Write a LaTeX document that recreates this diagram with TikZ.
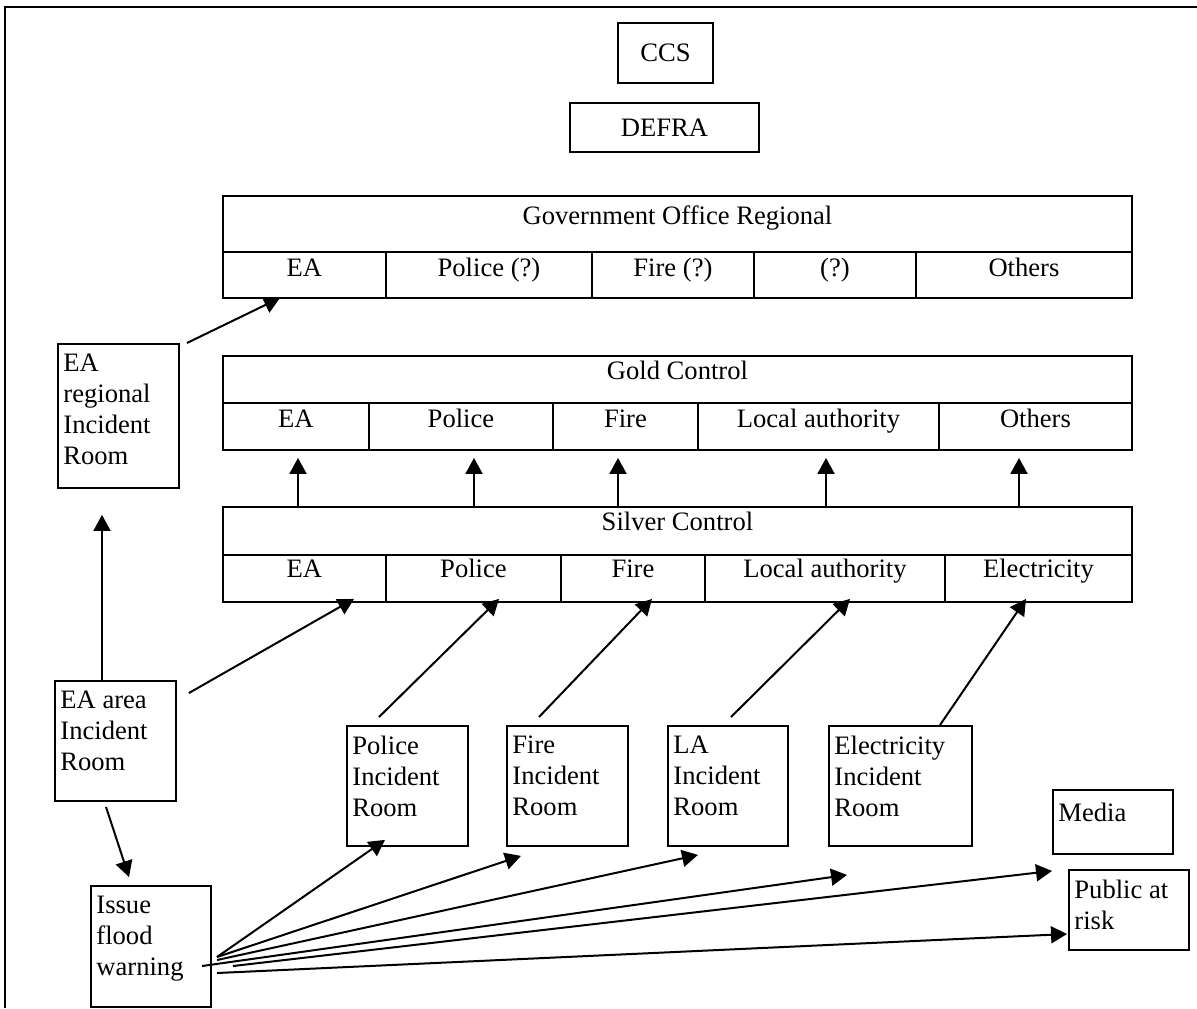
\documentclass[tikz,border=0pt]{standalone}
\usepackage{fontspec}
\setmainfont{Liberation Serif}
\usetikzlibrary{arrows.meta}
\tikzset{
  fc base/.style={
    draw=black, line width=0.95pt, inner sep=0pt,
    font=\fontsize{13.3}{15.5}\selectfont
  },
  fc box/.style={
    fc base, anchor=north west
  },
  fc cell/.style={
    fc box, minimum height=23.5pt, text height=12.5pt, text depth=11pt
  },
  fc room/.style={
    fc box, minimum width=60.5pt, minimum height=60pt
  },
  fc text/.style={
    anchor=north west, align=left, inner sep=0pt,
    xshift=3pt, yshift=-5.4pt,
    font=\fontsize{13.3}{15.5}\selectfont,
    execute at begin node=\strut
  },
  fc arrow/.style={
    -{Triangle[length=8pt, width=8.5pt]}, line width=1pt
  },
  fc frame/.style={
    line width=1.1pt
  }
}
\begin{document}
\begin{tikzpicture}[x=0.5pt, y=-0.5pt]
  \useasboundingbox (0,0) rectangle (1197,1008);
  \draw [fc frame] (1197,7) -- (5,7) -- (5,1008);

  % top level
  \node (ccs) [fc base, minimum width=47.5pt, minimum height=30pt] at (665.5,53) {CCS};
  \node (defra) [fc base, minimum width=94.5pt, minimum height=24.5pt] at (664.5,127.5) {DEFRA};

  % government office
  \node (gor) [fc box, minimum width=454.5pt, minimum height=28pt,
    text height=14.5pt, text depth=13.5pt] at (222,195) {Government Office Regional};
  \foreach \a/\b/\t [count=\i] in {222/385/EA, 385/591/{Police (?)},
      591/753/{Fire (?)}, 753/915/{(?)}, 915/1131/Others}
    \node (gor\i) [fc cell, minimum width={(\b-\a)*0.5pt}, minimum height=23pt,
      text height=12.5pt, text depth=10.5pt] at (\a,251) {\t};

  % gold
  \node (gold) [fc box, minimum width=454.5pt, minimum height=23.5pt,
    text height=12pt, text depth=11.5pt] at (222,355) {Gold Control};
  \foreach \a/\b/\t [count=\i] in {222/368/EA, 368/552/Police, 552/697/Fire,
      697/938/{Local authority}, 938/1131/Others}
    \node (gold\i) [fc cell, minimum width={(\b-\a)*0.5pt}] at (\a,402) {\t};

  % silver
  \node (silver) [fc box, minimum width=454.5pt, minimum height=24pt,
    text height=12pt, text depth=12pt] at (222,506) {Silver Control};
  \foreach \a/\b/\t [count=\i] in {222/385/EA, 385/560/Police, 560/704/Fire,
      704/944/{Local authority}, 944/1131/Electricity}
    \node (silver\i) [fc cell, minimum width={(\b-\a)*0.5pt},
      text height=11.5pt, text depth=12pt] at (\a,554) {\t};

  % incident rooms
  \node (earoom) [fc room, minimum height=72pt,
    label={[fc text]north west:{EA\\regional\\Incident\\Room}}] at (57,343) {};
  \node (eaarea) [fc room,
    label={[fc text]north west:{EA area\\Incident\\Room}}] at (54,680) {};
  \node (police) [fc room,
    label={[fc text]north west:{Police\\Incident\\Room}}] at (346,725) {};
  \node (fire) [fc room,
    label={[fc text]north west:{Fire\\Incident\\Room}}] at (506,725) {};
  \node (la) [fc room, minimum width=60pt,
    label={[fc text]north west:{LA\\Incident\\Room}}] at (667,725) {};
  \node (elec) [fc room, minimum width=71.5pt,
    label={[fc text]north west:{Electricity\\Incident\\Room}}] at (828,725) {};
  \node (media) [fc room, minimum width=60pt, minimum height=32pt,
    label={[fc text]north west:{Media}}] at (1052,789) {};
  \node (public) [fc room, minimum width=60pt, minimum height=40pt,
    label={[fc text]north west:{Public at\\risk}}] at (1068,869) {};
  \node (warn) [fc room, minimum width=60pt, minimum height=60.5pt,
    label={[fc text]north west:{Issue\\flood\\warning}}] at (90,885) {};

  % reporting lines
  \draw [fc arrow] ([shift={(7,0)}]earoom.north east) -- ([shift={(58,-1)}]gor1.south west);
  \draw [fc arrow] ([shift={(48,0)}]eaarea.north west) -- ([shift={(45,26)}]earoom.south west);
  \draw [fc arrow] ([shift={(12,13)}]eaarea.north east) -- ([shift={(132,-4)}]silver1.south west);
  \draw [fc arrow] ([shift={(52,5)}]eaarea.south west) -- ([shift={(39,-8)}]warn.north west);
  \draw [fc arrow] ([shift={(33,-8)}]police.north west) -- ([shift={(114,-4)}]silver2.south west);
  \draw [fc arrow] ([shift={(33,-8)}]fire.north west) -- ([shift={(92,-4)}]silver3.south west);
  \draw [fc arrow] ([shift={(64,-8)}]la.north west) -- ([shift={(146,-4)}]silver4.south west);
  \draw [fc arrow] ([shift={(112,0)}]elec.north west) -- ([shift={(82,-4)}]silver5.south west);
  \foreach \d in {76,252,396,604,797}
    \draw [fc arrow] ([shift={(\d,0)}]silver.north west) -- ([shift={(\d,7)}]gold1.south west);

  % warnings
  \draw [fc arrow] ([shift={(127,72)}]warn.north west) -- ([shift={(39,-7)}]police.south west);
  \draw [fc arrow] ([shift={(127,72)}]warn.north west) -- ([shift={(15,9)}]fire.south west);
  \draw [fc arrow] ([shift={(127,75)}]warn.north west) -- ([shift={(31,8)}]la.south west);
  \draw [fc arrow] ([shift={(112,81)}]warn.north west) -- ([shift={(19,28)}]elec.south west);
  \draw [fc arrow] ([shift={(143,81)}]warn.north west) -- ([shift={(0,16)}]media.south west);
  \draw [fc arrow] ([shift={(127,88)}]warn.north west) -- ([shift={(-1,65)}]public.north west);
\end{tikzpicture}
\end{document}
